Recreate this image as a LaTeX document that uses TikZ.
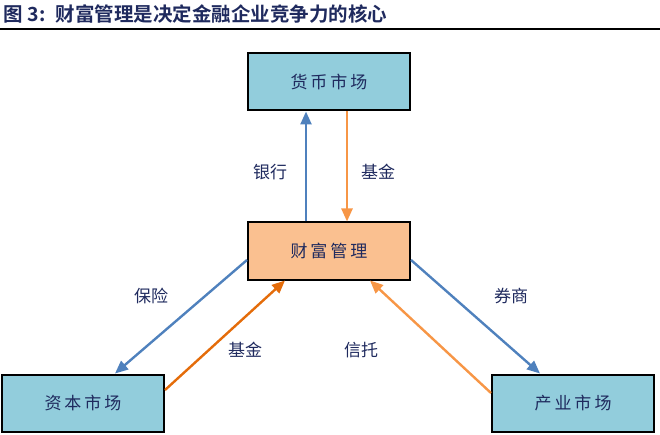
\documentclass[tikz,border=0pt]{standalone}
\usepackage{fontspec}
\usepackage{xcolor}
\usetikzlibrary{arrows.meta,positioning}
\newfontfamily\cjk{Noto Sans CJK SC}
\newfontfamily\cjkbold{Noto Sans CJK SC Bold}
\definecolor{marketcyan}{HTML}{92CDDC}
\definecolor{wealthorange}{HTML}{FAC090}
\definecolor{flowblue}{HTML}{4F81BD}
\definecolor{floworange}{HTML}{F79646}
\definecolor{flowdark}{HTML}{E46C0A}
\definecolor{inkblue}{HTML}{1F2A5E}

\begin{document}
\begin{tikzpicture}[
  x=1pt, y=-1pt,
  >=Stealth,
  market/.style={draw, line width=2pt, fill=marketcyan, minimum width=162pt, minimum height=57pt,
                 font=\cjk\fontsize{17}{19}\selectfont, text=inkblue},
  hub/.style={market, fill=wealthorange},
  lbl/.style={font=\cjk\fontsize{17}{19}\selectfont, text=inkblue},
  flow/.style={line width=2.4pt, -{Triangle[length=13pt,width=11pt]}}
]
  \useasboundingbox (0,0) rectangle (660,435);
  % title and rule
  \node[anchor=west, inner sep=0pt, text=inkblue, font=\cjkbold\fontsize{19.5}{21}\selectfont] (title) at (3,14)
    {图\hspace{5pt}3:\hspace{10pt}财富管理是决定金融企业竞争力的核心};
  \draw[line width=2pt] (0,29) -- (660,29);
  % boxes
  \node[market] (money)    at (329,82)  {货\hspace{3pt}币\hspace{3pt}市\hspace{3pt}场};
  \node[hub]    (wealth)   at (329,251) {财\hspace{3pt}富\hspace{3pt}管\hspace{3pt}理};
  \node[market] (capital)  at (83,403)  {资\hspace{3pt}本\hspace{3pt}市\hspace{3pt}场};
  \node[market] (industry) at (573,403) {产\hspace{3pt}业\hspace{3pt}市\hspace{3pt}场};
  % flows
  \draw[flow, flowblue]   ([xshift=-23pt]wealth.north) -- ([xshift=-23pt]money.south);
  \draw[flow, floworange] ([xshift=18pt]money.south) -- ([xshift=18pt]wealth.north);
  \draw[flow, flowblue]   ([yshift=-9pt]wealth.west) -- ([xshift=32pt]capital.north);
  \draw[flow, flowdark]   ([yshift=13pt]capital.east) -- ([xshift=-44pt]wealth.south);
  \draw[flow, flowblue]   ([yshift=-9pt]wealth.east) -- ([xshift=-33pt]industry.north);
  \draw[flow, floworange] ([yshift=10pt]industry.west) -- ([xshift=41pt]wealth.south);
  % labels
  \node[lbl] (bank)    at (270,172) {银行};
  \node[lbl] (fundA)   at (378,172) {基金};
  \node[lbl] (insur)   at (151,296) {保险};
  \node[lbl] (fundB)   at (245,350) {基金};
  \node[lbl] (broker)  at (511,296) {券商};
  \node[lbl] (trust)   at (361,350) {信托};
\end{tikzpicture}
\end{document}
